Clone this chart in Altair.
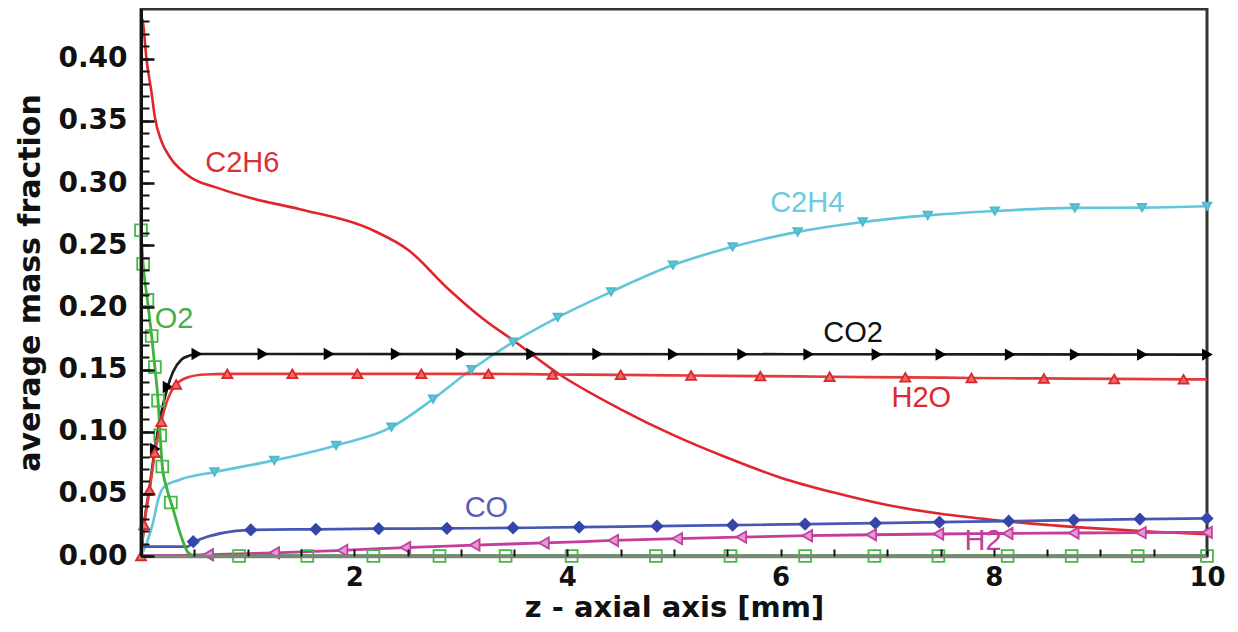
import altair as alt
import pandas as pd

# ---------------- data ----------------
series = ["C2H6", "C2H4", "CO2", "H2O", "CO", "H2", "O2"]

c2h6_x = [0, 0.02, 0.05, 0.1, 0.13, 0.19, 0.27, 0.42, 0.74, 1.05, 1.49, 2.2, 2.51, 2.88, 3.22, 3.5, 3.91,
          4.5, 5.0, 5.5, 6.0, 6.5, 7.0, 7.5, 8.0, 8.5, 9.0, 9.5, 10.0]
c2h6_y = [0.435, 0.428, 0.401, 0.372, 0.353, 0.334, 0.321, 0.3075, 0.2955, 0.2875, 0.279, 0.261, 0.246, 0.215,
          0.19, 0.173, 0.147, 0.118, 0.097, 0.079, 0.063, 0.051, 0.041, 0.034, 0.029, 0.025, 0.022, 0.0195, 0.0175]

c2h4_x = [0, 0.06, 0.11, 0.16, 0.21, 0.35, 0.69, 1.25, 1.83, 2.35, 2.74, 3.1, 3.49, 3.91, 4.41, 4.99, 5.55,
          6.16, 6.77, 7.38, 8.01, 8.76, 9.39, 10.0]
c2h4_y = [0, 0.012, 0.026, 0.045, 0.055, 0.061, 0.0676, 0.0769, 0.0889, 0.1036, 0.1263, 0.150, 0.172, 0.192,
          0.2125, 0.234, 0.2487, 0.2607, 0.2687, 0.274, 0.2775, 0.28, 0.2802, 0.2813]
c2h4_mx = [0.69, 1.25, 1.83, 2.35, 2.74, 3.1, 3.49, 3.91, 4.41, 4.99, 5.55, 6.16, 6.77, 7.38, 8.01, 8.76, 9.39, 10.0]
c2h4_my = [0.0676, 0.0769, 0.0889, 0.1036, 0.1263, 0.150, 0.172, 0.192, 0.2125, 0.234, 0.2487, 0.2607, 0.2687,
           0.274, 0.2775, 0.28, 0.2802, 0.2813]

co2_x = [0, 0.03, 0.08, 0.13, 0.19, 0.25, 0.3, 0.38, 0.45, 0.52, 1.14, 10.0]
co2_y = [0, 0.026, 0.055, 0.086, 0.115, 0.136, 0.148, 0.158, 0.161, 0.1625, 0.1625, 0.162]
co2_mx = [0.13, 0.25, 0.52, 1.14, 1.76, 2.39, 3.0, 3.66, 4.28, 4.99, 5.64, 6.26, 6.9, 7.5, 8.15, 8.76, 9.39, 10.0]
co2_my = [0.086, 0.136, 0.1625, 0.1625, 0.1625, 0.1625, 0.1625, 0.1625, 0.1625, 0.1623, 0.1622, 0.1622,
          0.1621, 0.1621, 0.162, 0.162, 0.162, 0.162]

h2o_x = [0, 0.03, 0.08, 0.13, 0.19, 0.25, 0.33, 0.45, 0.6, 0.81, 1.42, 2.03, 2.63, 3.26, 3.86, 4.5, 5.16,
         5.81, 6.46, 7.17, 7.79, 8.47, 9.13, 9.78, 10.0]
h2o_y = [0, 0.025, 0.053, 0.083, 0.108, 0.126, 0.138, 0.144, 0.146, 0.1465, 0.1465, 0.1465, 0.1465, 0.1465,
         0.146, 0.1457, 0.1452, 0.1447, 0.1442, 0.1437, 0.1432, 0.1428, 0.1424, 0.1421, 0.142]
h2o_mx = [0, 0.03, 0.08, 0.13, 0.19, 0.33, 0.81, 1.42, 2.03, 2.63, 3.26, 3.86, 4.5, 5.16, 5.81, 6.46, 7.17,
          7.79, 8.47, 9.13, 9.78]
h2o_my = [0, 0.025, 0.053, 0.083, 0.108, 0.138, 0.1465, 0.1465, 0.1465, 0.1465, 0.1465, 0.146, 0.1457,
          0.1452, 0.1447, 0.1442, 0.1437, 0.1432, 0.1428, 0.1424, 0.1421]

co_x = [0, 0.44, 0.49, 1.03, 1.64, 2.23, 2.87, 3.49, 4.11, 4.84, 5.55, 6.23, 6.89, 7.49, 8.14, 8.75, 9.37, 10.0]
co_y = [0.0075, 0.0075, 0.0115, 0.021, 0.0215, 0.022, 0.0222, 0.0226, 0.0232, 0.024, 0.0248, 0.0256,
        0.0264, 0.0272, 0.028, 0.0289, 0.0297, 0.0302]
co_mx = co_x[2:]
co_my = co_y[2:]

h2_x = [0, 0.3, 0.63, 1.25, 1.89, 2.48, 3.13, 3.78, 4.43, 5.03, 5.63, 6.25, 6.85, 7.48, 8.13, 8.75, 9.38, 10.0]
h2_y = [0, 0.0003, 0.001, 0.0025, 0.0045, 0.0068, 0.0088, 0.0105, 0.0125, 0.014, 0.0152, 0.0163, 0.0171,
        0.0177, 0.0181, 0.0185, 0.0188, 0.019]
h2_mx = h2_x[2:]
h2_my = h2_y[2:]

o2_x = [0, 0.02, 0.06, 0.1, 0.13, 0.16, 0.18, 0.2, 0.24, 0.3, 0.38, 0.44, 0.5, 0.92, 10.0]
o2_y = [0.262, 0.235, 0.206, 0.177, 0.152, 0.125, 0.097, 0.072, 0.055, 0.038, 0.015, 0.003, 0, 0, 0]
o2_mx = [0, 0.02, 0.06, 0.1, 0.13, 0.16, 0.18, 0.2, 0.28, 0.92, 1.56, 2.18, 2.8, 3.42, 4.04, 4.83, 5.53,
         6.23, 6.88, 7.48, 8.13, 8.73, 9.35, 10.0]
o2_my = [0.262, 0.235, 0.206, 0.177, 0.152, 0.125, 0.097, 0.072, 0.043, 0, 0, 0, 0, 0, 0, 0, 0,
         0, 0, 0, 0, 0, 0, 0]

label_text = ["C2H6", "C2H4", "O2", "CO2", "H2O", "CO", "H2"]
label_x = [0.95, 6.25, 0.31, 6.68, 7.32, 3.24, 7.9]
label_y = [0.316, 0.284, 0.191, 0.179, 0.127, 0.039, 0.0124]

y_label_values = [0.0, 0.05, 0.10, 0.15, 0.20, 0.25, 0.30, 0.35, 0.40]
y_minor_values = [i / 100 for i in range(0, 44)]
x_label_values = [2, 4, 6, 8, 10]
x_minor_values = [i / 2 for i in range(0, 21)]

# ---------------- styling ----------------
line_colors = ["#e0252d", "#62c6da", "#1c1c1c", "#e53a3a", "#4658b4", "#c43c9c", "#3cb43c"]
line_widths = [2.6, 2.8, 3.0, 3.0, 3.0, 3.0, 2.6]
mk_shapes = ["circle", "triangle-down", "triangle-right", "triangle-up", "diamond", "triangle-left", "square"]
mk_fill = ["#e0252d", "#5fc4d8", "#000000", "#ef6a66", "#3446a8", "#e49ad0", "rgba(0,0,0,0)"]
mk_stroke = ["#e0252d", "#4fb8cc", "#000000", "#d8282c", "#3446a8", "#c040a0", "#44b844"]
mk_size = [60, 140, 210, 270, 210, 210, 160]
label_colors = ["#d9313a", "#6ccbe0", "#46b046", "#111111", "#d92a2c", "#5a5cbc", "#c040a0"]

FONT = "Liberation Sans"
AXFONT = "DejaVu Sans"

# ---------------- tables ----------------
def table(name, xs, ys):
    return pd.DataFrame({"series": name, "x": xs, "y": ys})

lines_df = pd.concat([
    table("C2H6", c2h6_x, c2h6_y), table("C2H4", c2h4_x, c2h4_y), table("CO2", co2_x, co2_y),
    table("H2O", h2o_x, h2o_y), table("CO", co_x, co_y), table("H2", h2_x, h2_y), table("O2", o2_x, o2_y),
], ignore_index=True)

markers_df = pd.concat([
    table("C2H4", c2h4_mx, c2h4_my), table("CO2", co2_mx, co2_my), table("H2O", h2o_mx, h2o_my),
    table("CO", co_mx, co_my), table("H2", h2_mx, h2_my), table("O2", o2_mx, o2_my),
], ignore_index=True)

labels_df = pd.DataFrame({"label": label_text, "x": label_x, "y": label_y})

xs = alt.Scale(domain=[0, 10], nice=False, zero=False)
ys = alt.Scale(domain=[0, 0.44], nice=False, zero=False)

# main axes (labels, titles, domain lines)
x_main = alt.Axis(orient="bottom", values=x_label_values, format="d", ticks=False, grid=False,
                  domainColor="#7d857b", domainWidth=3.5, labelFont=AXFONT, labelFontWeight="bold",
                  labelFontSize=26, labelColor="#111111", labelPadding=8, labelFlush=False,
                  title="z - axial axis [mm]", titleFont=AXFONT, titleFontWeight="bold", titleFontSize=29,
                  titleColor="#111111", titleY=51, titleBaseline="middle", zindex=1)
y_main = alt.Axis(orient="left", values=y_label_values, format=".2f", ticks=False, grid=False,
                  domainColor="#111111", domainWidth=3, labelFont=AXFONT, labelFontWeight="bold",
                  labelFontSize=28, labelColor="#111111", labelPadding=14, labelFlush=False,
                  title="average mass fraction", titleFont=AXFONT, titleFontWeight="bold", titleFontSize=30,
                  titleColor="#111111", titleX=-111, titleBaseline="middle", zindex=1)

# inward minor ticks
x_minor = alt.Axis(orient="bottom", values=x_minor_values, labels=False, domain=False, grid=False,
                   ticks=True, tickSize=7, tickWidth=2, tickColor="#111111", offset=-7, title="", zindex=1)
y_minor = alt.Axis(orient="left", values=y_minor_values, labels=False, domain=False, grid=False,
                   ticks=True, tickSize=8, tickWidth=2, tickColor="#111111", offset=-8, title="", zindex=1)
y_major = alt.Axis(orient="left", values=y_label_values, labels=False, domain=False, grid=False,
                   ticks=True, tickSize=13, tickWidth=2.5, tickColor="#111111", offset=-13, title="", zindex=1)

lines = alt.Chart(lines_df).mark_line(interpolate="monotone").encode(
    x=alt.X("x:Q", scale=xs, axis=x_main),
    y=alt.Y("y:Q", scale=ys, axis=y_main),
    color=alt.Color("series:N", scale=alt.Scale(domain=series, range=line_colors), legend=None),
    strokeWidth=alt.StrokeWidth("series:N", scale=alt.Scale(domain=series, range=line_widths), legend=None),
)

markers = alt.Chart(markers_df).mark_point(filled=True, strokeWidth=1.8, opacity=1).encode(
    x=alt.X("x:Q", scale=xs, axis=x_minor),
    y=alt.Y("y:Q", scale=ys, axis=y_minor),
    shape=alt.Shape("series:N", scale=alt.Scale(domain=series, range=mk_shapes), legend=None),
    fill=alt.Fill("series:N", scale=alt.Scale(domain=series, range=mk_fill), legend=None),
    stroke=alt.Stroke("series:N", scale=alt.Scale(domain=series, range=mk_stroke), legend=None),
    size=alt.Size("series:N", scale=alt.Scale(domain=series, range=mk_size), legend=None),
)

labels = alt.Chart(labels_df).mark_text(font=FONT, fontSize=29, align="center", baseline="middle").encode(
    x=alt.X("x:Q", scale=xs, axis=None),
    y=alt.Y("y:Q", scale=ys, axis=y_major),
    text="label:N",
    color=alt.Color("label:N", scale=alt.Scale(domain=label_text, range=label_colors), legend=None),
)

chart = alt.layer(lines, markers, labels).resolve_axis(
    x="independent", y="independent"
).resolve_scale(
    color="independent", fill="independent", stroke="independent"
).properties(
    width=1066, height=547,
    autosize=alt.AutoSizeParams(type="none"),
    padding={"left": 133, "top": 1, "right": 22, "bottom": 66},
    background="white",
).configure_view(stroke="#333333", strokeWidth=3)

chart.save("out.html", embed_options={"renderer": "svg", "actions": False})
